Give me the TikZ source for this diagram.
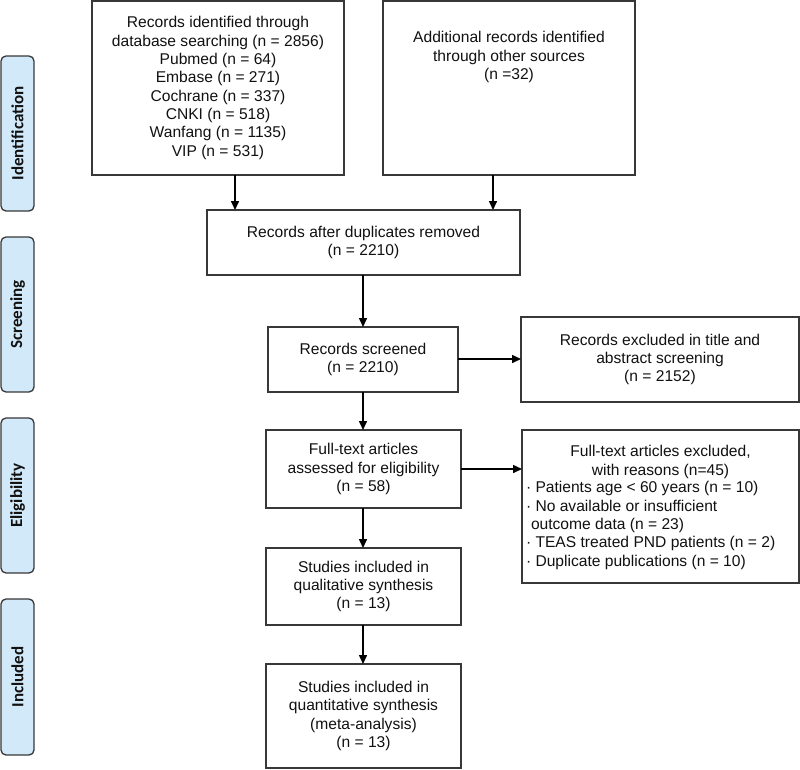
\documentclass[tikz,border=0pt]{standalone}
\usepackage{fontspec}
\setmainfont{Liberation Sans}
\newfontfamily\sidefont{Carlito}
\usetikzlibrary{arrows.meta}
\definecolor{sideblue}{HTML}{D2E9F9}
\definecolor{edgegray}{HTML}{383838}
\definecolor{txtgray}{HTML}{111111}
\begin{document}
\begin{tikzpicture}[x=1pt,y=-1pt,
  every node/.style={inner sep=0pt, outer sep=0pt, text=txtgray},
  box/.style={draw=edgegray, line width=1.4pt, fill=white, align=center,
    font=\fontsize{15.6}{18.3}\selectfont},
  txt/.style={align=center, font=\fontsize{15.6}{18.3}\selectfont},
  side/.style={draw=edgegray, line width=1.3pt, fill=sideblue, rounded corners=5pt,
    minimum width=33pt, minimum height=155pt},
  sidetxt/.style={rotate=90, font=\sidefont\bfseries\fontsize{17}{20}\selectfont},
  arr/.style={draw=black, line width=1.5pt, -{Triangle[length=9pt,width=8pt]}}]
\useasboundingbox (0,0) rectangle (800,769);

% side labels
\node[side] (sid) at (17.5,133.5) {};
\node[sidetxt] (sidt) at (sid.center) {Identification};
\node[side] (sscr) at (17.5,314.5) {};
\node[sidetxt] (sscrt) at (sscr.center) {Screening};
\node[side] (selg) at (17.5,495.5) {};
\node[sidetxt] (selgt) at (selg.center) {Eligibility};
\node[side, minimum height=156pt] (sinc) at (17.5,677) {};
\node[sidetxt] (sinct) at (sinc.center) {Included};

% boxes
\node[box, minimum width=252pt, minimum height=174pt] (b1) at (218,88)
  {Records identified through\\database searching (n = 2856)\\Pubmed (n = 64)\\Embase (n = 271)\\Cochrane (n = 337)\\CNKI (n = 518)\\Wanfang (n = 1135)\\VIP (n = 531)};
\node[box, minimum width=252pt, minimum height=174pt] (b2) at (509,88) {};
\node[txt] (b2t) at (509,57) {Additional records identified\\through other sources\\(n =32)};
\node[box, minimum width=313pt, minimum height=65pt] (b3) at (363.5,242.5)
  {Records after duplicates removed\\(n = 2210)};
\node[box, minimum width=190pt, minimum height=65pt] (b4) at (363,359.5)
  {Records screened\\(n = 2210)};
\node[box, minimum width=278pt, minimum height=85pt] (b5) at (660,359.5)
  {Records excluded in title and\\abstract screening\\(n = 2152)};
\node[box, minimum width=195pt, minimum height=78pt] (b6) at (363.5,469)
  {Full-text articles\\assessed for eligibility\\(n = 58)};
\node[box, minimum width=277pt, minimum height=153pt] (b8) at (660.5,506.5) {};
\node[txt] (b8h) at (660.5,462) {Full-text articles excluded,\\with reasons (n=45)};
\node[txt, align=left, anchor=west] (b8l) at (526,525.5)
  {· Patients age < 60 years (n = 10)\\· No available or insufficient\\\hspace*{5pt}outcome data (n = 23)\\· TEAS treated PND patients (n = 2)\\· Duplicate publications (n = 10)};
\node[box, minimum width=195pt, minimum height=77pt] (b7) at (363.5,586.5)
  {Studies included in\\qualitative synthesis\\(n = 13)};
\node[box, minimum width=195pt, minimum height=104pt] (b9) at (363.5,716)
  {Studies included in\\quantitative synthesis\\(meta-analysis)\\(n = 13)};

% arrows
\coordinate (c1) at (235,0);
\coordinate (c2) at (493,0);
\coordinate (c3) at (363,0);
\coordinate (c4) at (0,359);
\coordinate (c5) at (0,469);
\draw[arr] (b1.south -| c1) -- (b3.north -| c1);
\draw[arr] (b2.south -| c2) -- (b3.north -| c2);
\draw[arr] (b3.south -| c3) -- (b4.north -| c3);
\draw[arr] (b4.east |- c4) -- (b5.west |- c4);
\draw[arr] (b4.south -| c3) -- (b6.north -| c3);
\draw[arr] (b6.east |- c5) -- (b8.west |- c5);
\draw[arr] (b6.south -| c3) -- (b7.north -| c3);
\draw[arr] (b7.south -| c3) -- (b9.north -| c3);
\end{tikzpicture}
\end{document}
